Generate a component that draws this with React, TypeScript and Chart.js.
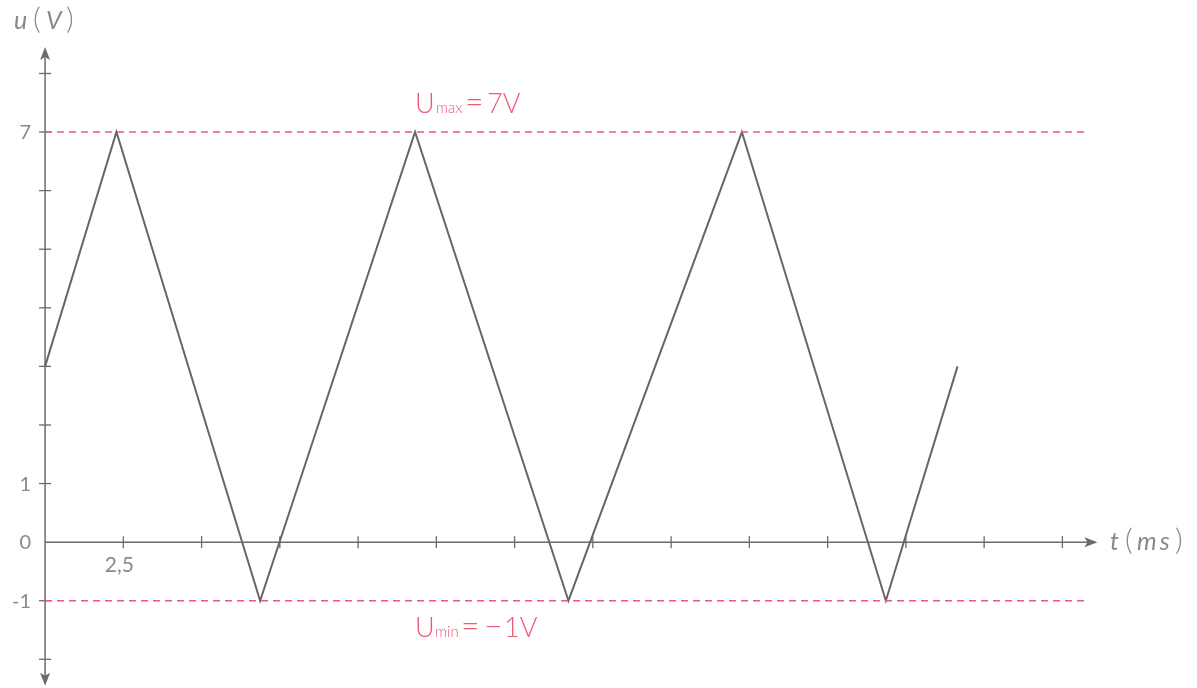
import React, { useEffect, useRef } from "react";
import { Chart, registerables } from "chart.js";

Chart.register(...registerables);

// Waveform (t in ms, u in V)
const timeMs = [0, 2.28, 6.87, 11.82, 16.72, 22.26, 26.86, 29.15];
const voltage = [3, 7, -1, 7, -1, 7, -1, 3];

// Reference levels
const uMax = 7;
const uMin = -1;
const refLineEnd = 33.2;

// Axis ticks
const xTickValues = [2.5, 5, 7.5, 10, 12.5, 15, 17.5, 20, 22.5, 25, 27.5, 30, 32.5];
const xTickLabels = ["2,5", "", "", "", "", "", "", "", "", "", "", "", ""];
const yTickValues = [-2, -1, 0, 1, 2, 3, 4, 5, 6, 7, 8];
const yTickLabels = ["", "-1", "0", "1", "", "", "", "", "", "7", ""];

const X_MIN = -1.44;
const X_MAX = 36.8;
const Y_MIN = -2.49;
const Y_MAX = 9.254;
const X_ARROW = 33.62;
const Y_ARROW_TOP = 8.45;
const Y_ARROW_BOTTOM = -2.45;

const AXIS_COLOR = "#6b6b6b";
const TEXT_COLOR = "#8a8a8a";
const RED = "#ee5a74";
const FONT = "Lato, 'Open Sans', 'DejaVu Sans', sans-serif";

type Piece = [string, string, number, number?]; // font, text, x position, letter spacing

export default function App() {
  const ref = useRef<HTMLCanvasElement | null>(null);

  useEffect(() => {
    const canvas = ref.current;
    if (!canvas) return;

    const axesPlugin = {
      id: "axesPlugin",
      beforeDatasetsDraw(chart: any) {
        const ctx = chart.ctx as CanvasRenderingContext2D;
        const xs = chart.scales.x;
        const ys = chart.scales.y;
        const x0 = xs.getPixelForValue(0);
        const y0 = ys.getPixelForValue(0);
        ctx.save();
        ctx.strokeStyle = AXIS_COLOR;
        ctx.fillStyle = AXIS_COLOR;
        ctx.lineWidth = 1.5;
        // x axis
        const xEnd = xs.getPixelForValue(X_ARROW);
        ctx.beginPath();
        ctx.moveTo(x0, y0);
        ctx.lineTo(xEnd - 8, y0);
        ctx.stroke();
        ctx.beginPath();
        ctx.moveTo(xEnd, y0);
        ctx.lineTo(xEnd - 13, y0 - 5);
        ctx.lineTo(xEnd - 10, y0);
        ctx.lineTo(xEnd - 13, y0 + 5);
        ctx.closePath();
        ctx.fill();
        // y axis
        const yTop = ys.getPixelForValue(Y_ARROW_TOP);
        const yBot = ys.getPixelForValue(Y_ARROW_BOTTOM);
        ctx.beginPath();
        ctx.moveTo(x0, yTop + 8);
        ctx.lineTo(x0, yBot - 8);
        ctx.stroke();
        ctx.beginPath();
        ctx.moveTo(x0, yTop);
        ctx.lineTo(x0 - 5, yTop + 13);
        ctx.lineTo(x0, yTop + 10);
        ctx.lineTo(x0 + 5, yTop + 13);
        ctx.closePath();
        ctx.fill();
        ctx.beginPath();
        ctx.moveTo(x0, yBot);
        ctx.lineTo(x0 - 5, yBot - 13);
        ctx.lineTo(x0, yBot - 10);
        ctx.lineTo(x0 + 5, yBot - 13);
        ctx.closePath();
        ctx.fill();
        // ticks
        ctx.lineWidth = 1.3;
        xTickValues.forEach((v) => {
          const px = xs.getPixelForValue(v);
          ctx.beginPath();
          ctx.moveTo(px, y0 - 6);
          ctx.lineTo(px, y0 + 6);
          ctx.stroke();
        });
        yTickValues.forEach((v) => {
          if (v === 0) return;
          const py = ys.getPixelForValue(v);
          ctx.beginPath();
          ctx.moveTo(x0 - 6, py);
          ctx.lineTo(x0 + 6, py);
          ctx.stroke();
        });
        // tick labels
        ctx.fillStyle = TEXT_COLOR;
        ctx.font = `400 20px ${FONT}`;
        ctx.textBaseline = "alphabetic";
        ctx.textAlign = "right";
        yTickValues.forEach((v, i) => {
          const lbl = yTickLabels[i];
          if (!lbl) return;
          ctx.fillText(lbl, x0 - 14, ys.getPixelForValue(v) + 7);
        });
        ctx.textAlign = "center";
        ctx.font = `400 21px ${FONT}`;
        xTickValues.forEach((v, i) => {
          const lbl = xTickLabels[i];
          if (!lbl) return;
          ctx.fillText(lbl, xs.getPixelForValue(v) - 4, y0 + 30);
        });
        ctx.restore();
      },
      afterDraw(chart: any) {
        const ctx = chart.ctx as CanvasRenderingContext2D;
        const ys = chart.scales.y;
        const y0 = ys.getPixelForValue(0);
        ctx.save();
        ctx.textBaseline = "alphabetic";
        ctx.textAlign = "left";
        const drawPieces = (pieces: Piece[], y: number) => {
          pieces.forEach(([font, txt, x, ls]) => {
            ctx.font = font;
            (ctx as any).letterSpacing = `${ls || 0}px`;
            ctx.fillText(txt, x, y);
          });
          (ctx as any).letterSpacing = "0px";
        };
        ctx.fillStyle = TEXT_COLOR;
        const it = `italic 400 25px ${FONT}`;
        const par = `300 30px ${FONT}`;
        // y axis title u (V)
        drawPieces(
          [
            [it, "u", 14],
            [par, "(", 33],
            [it, "V", 46],
            [par, ")", 66],
          ],
          29
        );
        // x axis title t (ms)
        drawPieces(
          [
            [it, "t", 1110],
            [par, "(", 1125],
            [it, "ms", 1137, 3],
            [par, ")", 1175],
          ],
          y0 + 8
        );
        // U max / U min labels
        ctx.fillStyle = RED;
        const big = `300 27px ${FONT}`;
        const eq = `300 32px ${FONT}`;
        const sub = `300 15px ${FONT}`;
        drawPieces(
          [
            [big, "U", 415],
            [sub, "max", 436],
            [eq, "=", 465],
            [big, "7V", 487],
          ],
          ys.getPixelForValue(uMax) - 19
        );
        drawPieces(
          [
            [big, "U", 415],
            [sub, "min", 435],
            [eq, "=", 461],
            [eq, "\u2212", 484],
            [big, "1V", 504],
          ],
          ys.getPixelForValue(uMin) + 36
        );
        ctx.restore();
      },
    };

    const chart = new Chart(canvas, {
      type: "scatter",
      data: {
        datasets: [
          {
            label: "Umax",
            data: [
              { x: 0, y: uMax },
              { x: refLineEnd, y: uMax },
            ],
            showLine: true,
            borderColor: RED,
            borderWidth: 1.5,
            borderDash: [7, 5],
            pointRadius: 0,
          },
          {
            label: "Umin",
            data: [
              { x: 0, y: uMin },
              { x: refLineEnd, y: uMin },
            ],
            showLine: true,
            borderColor: RED,
            borderWidth: 1.5,
            borderDash: [7, 5],
            pointRadius: 0,
          },
          {
            label: "u(t)",
            data: timeMs.map((t, i) => ({ x: t, y: voltage[i] })),
            showLine: true,
            borderColor: "#666666",
            borderWidth: 2,
            pointRadius: 0,
            tension: 0,
          },
        ],
      },
      options: {
        animation: false,
        responsive: false,
        maintainAspectRatio: false,
        layout: { padding: 0 },
        plugins: {
          legend: { display: false },
          tooltip: { enabled: false },
        },
        scales: {
          x: { type: "linear", min: X_MIN, max: X_MAX, display: false },
          y: { type: "linear", min: Y_MIN, max: Y_MAX, display: false },
        },
      },
      plugins: [axesPlugin],
    });

    return () => chart.destroy();
  }, []);

  return (
    <div style={{ position: "fixed", left: 0, top: 0, width: 1197, height: 688, background: "#fff" }}>
      <canvas ref={ref} width={1197} height={688} style={{ display: "block" }} />
    </div>
  );
}
